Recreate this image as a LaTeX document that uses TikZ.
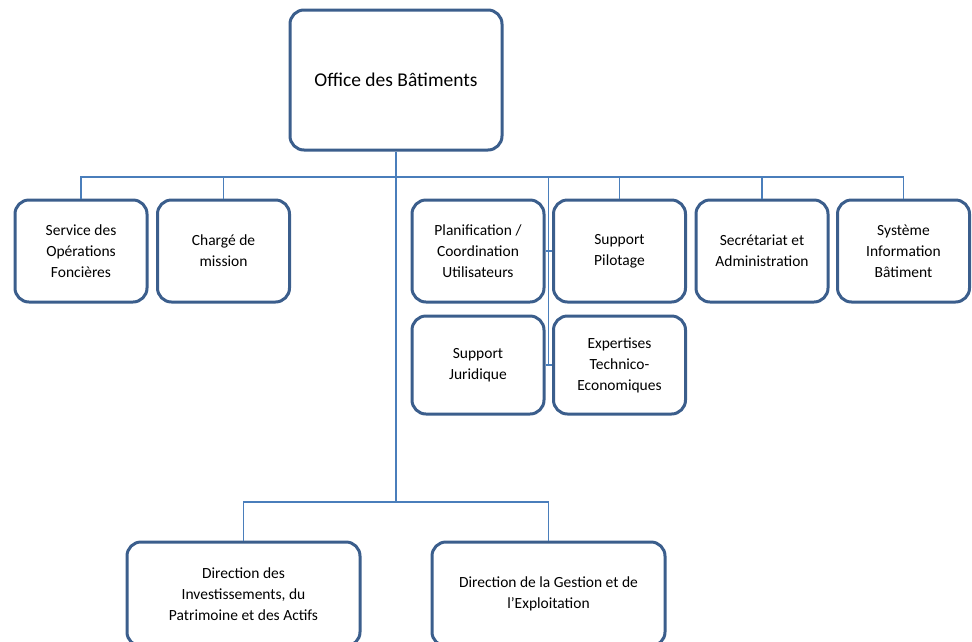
\documentclass[tikz,border=0pt]{standalone}
\usepackage{fontspec}
\setmainfont{Carlito}
\definecolor{boxline}{HTML}{3B5E8C}
\definecolor{conn}{HTML}{4A7EBB}
\begin{document}
\begin{tikzpicture}[x=1pt,y=-1pt,
  orgbox/.style={draw=boxline,line width=3pt,rounded corners=14pt,fill=white,
    minimum width=132pt,align=center,font=\fontsize{15.5}{21}\selectfont,inner sep=2pt},
  wire/.style={draw=conn,line width=1.4pt}]
\useasboundingbox (0,0) rectangle (972,641);
\begin{scope}
\clip (0,0) rectangle (972,641);
\node[orgbox,minimum width=212pt,minimum height=140pt,font=\fontsize{19.5}{23}\selectfont] (top) at (396,80) {Office des Bâtiments};
\node[orgbox,minimum height=102pt] (svc) at (81,251) {Service des\\Opérations\\Foncières};
\node[orgbox,minimum height=102pt] (charge) at (223.5,251) {Chargé de\\mission};
\node[orgbox,minimum height=102pt] (plan) at (478,251) {Planification /\\Coordination\\Utilisateurs};
\node[orgbox,minimum height=102pt] (pilot) at (619.5,251) {Support\\Pilotage};
\node[orgbox,minimum height=102pt] (secr) at (762,251) {Secrétariat et\\Administration};
\node[orgbox,minimum height=102pt] (sib) at (903.5,251) {Système\\Information\\Bâtiment};
\node[orgbox,minimum height=98pt] (jur) at (478,365) {Support\\Juridique};
\node[orgbox,minimum height=98pt] (expert) at (619.5,365) {Expertises\\Technico-\\Economiques};
\node[orgbox,minimum width=233pt,minimum height=104pt] (dipa) at (243.5,594) {Direction des\\Investissements, du\\Patrimoine et des Actifs};
\node[orgbox,minimum width=233pt,minimum height=104pt] (dge) at (548.5,594) {Direction de la Gestion et de\\l’Exploitation};
\coordinate (bus) at (396,177);
\coordinate (sv) at (548.5,177);
\coordinate (lowbus) at (396,502);
\draw[wire] (svc.north) |- (bus) -| (sib.north);
\draw[wire] (charge.north) -- (charge.north |- bus);
\draw[wire] (pilot.north) -- (pilot.north |- bus);
\draw[wire] (secr.north) -- (secr.north |- bus);
\draw[wire] (top.south) -- (lowbus);
\draw[wire] (dipa.north) |- (lowbus) -| (dge.north);
\draw[wire] (sv) -- (sv |- jur.east);
\draw[wire] (plan.east) -- (pilot.west);
\draw[wire] (jur.east) -- (expert.west);
\end{scope}
\end{tikzpicture}
\end{document}
